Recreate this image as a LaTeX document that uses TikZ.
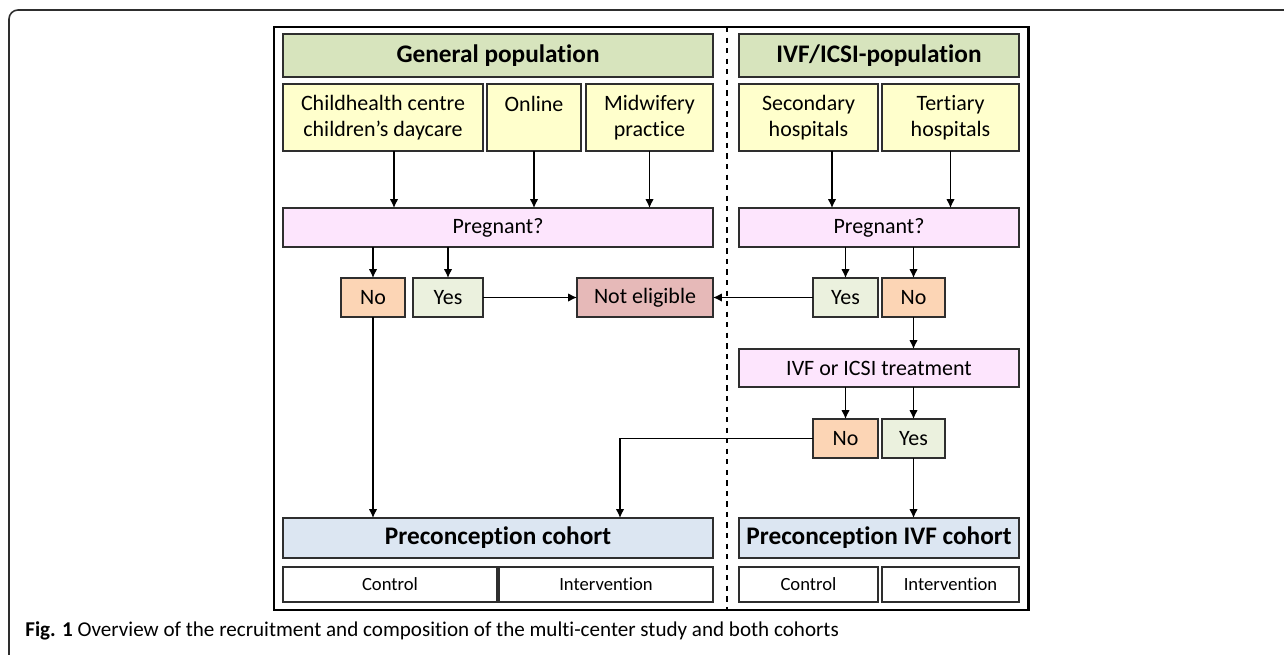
\documentclass[tikz,border=0pt]{standalone}
\usepackage{fontspec}
\setmainfont{Carlito}[Ligatures=NoCommon]
\usepackage{xcolor}
\usetikzlibrary{arrows.meta,calc}
\newcommand{\px}{0.02cm}
\definecolor{edge}{HTML}{2E2E2E}
\definecolor{popgreen}{HTML}{D7E4BD}
\definecolor{srcyellow}{HTML}{FFFFCC}
\definecolor{askpink}{HTML}{FDE5FD}
\definecolor{noorange}{HTML}{FCD5B5}
\definecolor{yesgreen}{HTML}{EBF1DE}
\definecolor{outred}{HTML}{E6B9B8}
\definecolor{cohblue}{HTML}{DCE6F2}
\begin{document}
\begin{tikzpicture}
[x=\px,y=-\px,>={Latex[length=5pt,width=4.8pt]},
 box/.style={draw=edge,line width=0.8pt,inner sep=0pt,outer sep=0pt,align=center,
   font=\fontsize{12.5}{15}\selectfont},
 popbox/.style={box,fill=popgreen,font=\fontsize{14.4}{17}\selectfont\bfseries},
 srcbox/.style={box,fill=srcyellow},
 askbox/.style={box,fill=askpink},
 nobox/.style={box,fill=noorange},
 yesbox/.style={box,fill=yesgreen},
 outbox/.style={box,fill=outred},
 cohbox/.style={box,fill=cohblue,font=\fontsize{14.4}{17}\selectfont\bfseries},
 armbox/.style={box,fill=white,font=\fontsize{10.6}{13}\selectfont},
 flow/.style={->,draw=black,line width=0.8pt}]
\useasboundingbox (0,0) rectangle (1284,655);
\draw[edge,line width=0.9pt,rounded corners=9*\px] (1290,10) -- (9,10) -- (9,665);
\draw[line width=1.7pt] (274,27) rectangle (1028,610);
\draw[dashed,line width=0.8pt] (727,27) -- (727,610);

% populations
\node[popbox,minimum width=430*\px,minimum height=43*\px] (gph) at (498,55.5) {General population};
\node[popbox,minimum width=280*\px,minimum height=43*\px] (ivh) at (879,55.5) {IVF/ICSI-population};

% recruitment sources
\node[srcbox,minimum width=200*\px,minimum height=67*\px] (ch) at (383,117.5) {Childhealth centre\\children’s daycare};
\node[srcbox,minimum width=94*\px,minimum height=67*\px] (on) at (534,117.5) {Online\\~};
\node[srcbox,minimum width=127*\px,minimum height=67*\px] (mw) at (649.5,117.5) {Midwifery\\practice};
\node[srcbox,minimum width=139*\px,minimum height=67*\px] (sec) at (808.5,117.5) {Secondary\\hospitals};
\node[srcbox,minimum width=137*\px,minimum height=67*\px] (ter) at (950.5,117.5) {Tertiary\\hospitals};

% pregnancy check
\node[askbox,minimum width=430*\px,minimum height=39*\px] (pgl) at (498,227.5) {Pregnant?};
\node[askbox,minimum width=280*\px,minimum height=39*\px] (pgr) at (879,227.5) {Pregnant?};
\node[nobox,minimum width=64*\px,minimum height=39*\px] (nol) at (373,297.5) {No};
\node[yesbox,minimum width=70*\px,minimum height=39*\px] (yesl) at (448,297.5) {Yes};
\node[outbox,minimum width=136*\px,minimum height=39*\px] (ne) at (645,297.5) {Not eligible};
\node[yesbox,minimum width=65*\px,minimum height=39*\px] (yesr) at (845.5,297.5) {Yes};
\node[nobox,minimum width=63*\px,minimum height=39*\px] (nor) at (913.5,297.5) {No};

% treatment check
\node[askbox,minimum width=280*\px,minimum height=38*\px] (trt) at (879,368) {IVF or ICSI treatment};
\node[nobox,minimum width=65*\px,minimum height=39*\px] (not) at (845.5,438.5) {No};
\node[yesbox,minimum width=63*\px,minimum height=39*\px] (yest) at (913.5,438.5) {Yes};

% cohorts
\node[cohbox,minimum width=430*\px,minimum height=40*\px] (cohl) at (498,538) {Preconception cohort};
\node[cohbox,minimum width=280*\px,minimum height=40*\px] (cohr) at (879,538) {Preconception IVF cohort};
\node[armbox,minimum width=214*\px,minimum height=35*\px] (ctl) at (390,584.5) {Control};
\node[armbox,minimum width=214*\px,minimum height=35*\px] (itl) at (606,584.5) {Intervention};
\node[armbox,minimum width=139*\px,minimum height=35*\px] (ctr) at (808.5,584.5) {Control};
\node[armbox,minimum width=137*\px,minimum height=35*\px] (itr) at (950.5,584.5) {Intervention};

% arrows
\draw[flow] ([xshift=11*\px]ch.south) -- ([xshift=11*\px]ch.south |- pgl.north);
\draw[flow] (on.south) -- (on.south |- pgl.north);
\draw[flow] (mw.south) -- (mw.south |- pgl.north);
\draw[flow] ([xshift=23.5*\px]sec.south) -- ([xshift=23.5*\px]sec.south |- pgr.north);
\draw[flow] (ter.south) -- (ter.south |- pgr.north);
\draw[flow] (nol.north |- pgl.south) -- (nol.north);
\draw[flow] (yesl.north |- pgl.south) -- (yesl.north);
\draw[flow] (yesl.east) -- (ne.west);
\draw[flow] (yesr.north |- pgr.south) -- (yesr.north);
\draw[flow] (nor.north |- pgr.south) -- (nor.north);
\draw[flow] (yesr.west) -- (ne.east);
\draw[flow] (nor.south) -- (nor.south |- trt.north);
\draw[flow] (not.north |- trt.south) -- (not.north);
\draw[flow] (yest.north |- trt.south) -- (yest.north);
\draw[flow] (nol.south) -- (nol.south |- cohl.north);
\draw[flow] (not.west) -| ([xshift=122*\px]cohl.north);
\draw[flow] (yest.south) -- (yest.south |- cohr.north);

% caption
\node[anchor=west,inner sep=0pt,font=\fontsize{12}{14}\selectfont] (cap) at (25,631)
  {\textbf{Fig. 1} Overview of the recruitment and composition of the multi-center study and both cohorts};
\end{tikzpicture}
\end{document}
